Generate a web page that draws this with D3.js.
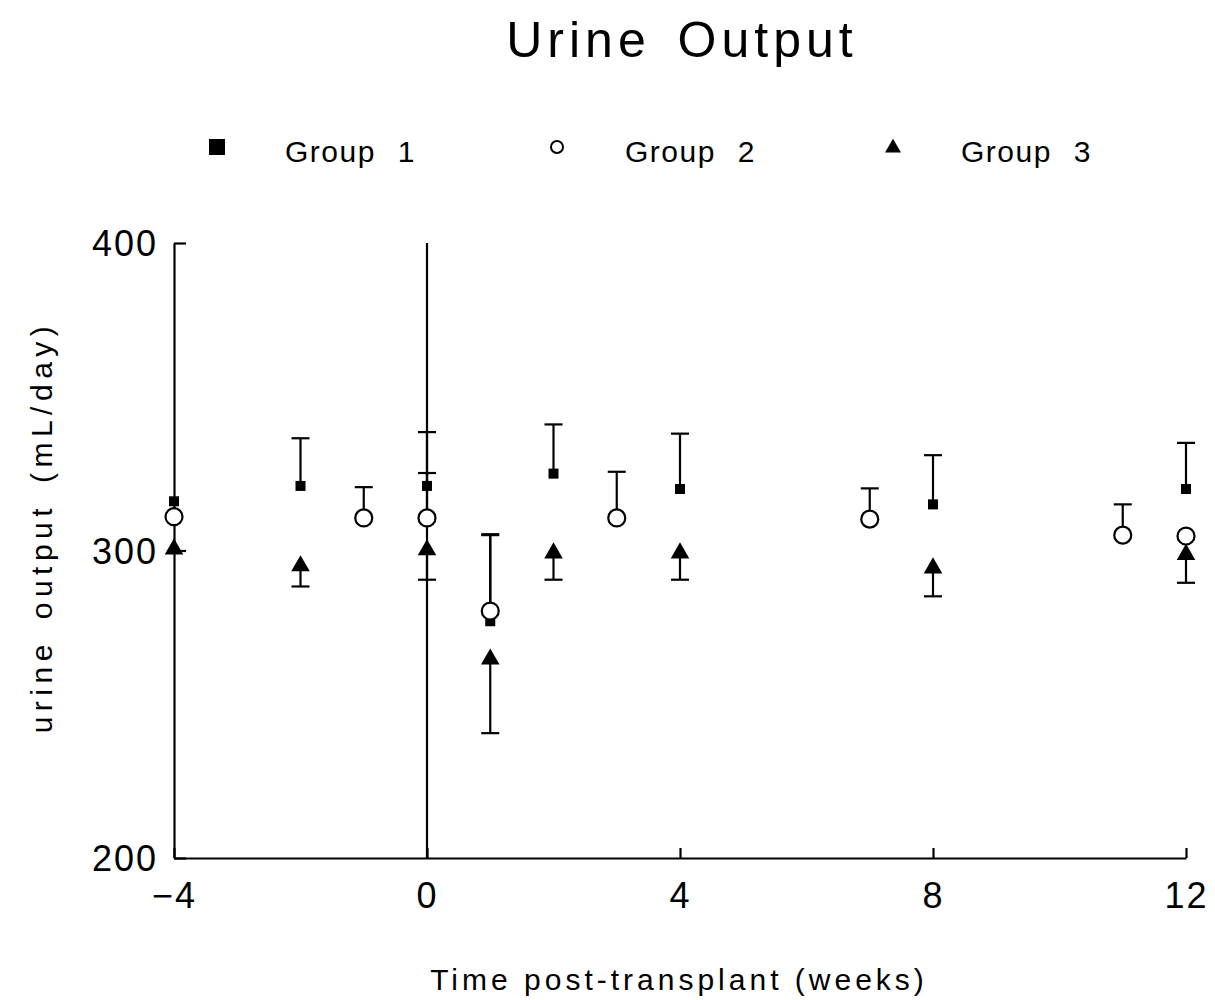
<!DOCTYPE html>
<html>
<head>
<meta charset="utf-8">
<script src="https://cdn.jsdelivr.net/npm/d3@7"></script>
<style>
  html, body { margin: 0; padding: 0; background: #fff; }
  svg text { font-family: "Liberation Sans", Arial, sans-serif; fill: #000; }
</style>
</head>
<body>
<svg id="chart" width="1215" height="1000"></svg>
<script>
// Weeks relative to transplant
const weeks1 = [-4, -2, 0, 1, 2, 4, 8, 12];
const group1 = [316, 321, 321, 277, 325, 320, 315, 320];
const group1Err = [0, 15.5, 17.5, 28, 16, 18, 16, 15];

const weeks2 = [-4, -1, 0, 1, 3, 7, 11, 12];
const group2 = [311, 310.6, 310.6, 280.3, 310.6, 310.2, 305, 304.7];
const group2Err = [0, 10, 14.6, 25, 15, 10, 10, 0];

const weeks3 = [-4, -2, 0, 1, 2, 4, 8, 12];
const group3 = [300.8, 295.3, 300.5, 265, 299.5, 299.5, 294.6, 299];
const group3Err = [0, 7, 10, 24.4, 9, 9, 9.5, 9.5];

const xTicks = [-4, 0, 4, 8, 12];
const yTicks = [200, 300, 400];
const legendLabels = ["Group 1", "Group 2", "Group 3"];

const svg = d3.select("#chart");
const x = d3.scaleLinear().domain([-4, 12]).range([174, 1186]);
const y = d3.scaleLinear().domain([200, 400]).range([858, 243]);
const lw = 2.2;

// Title
svg.append("text").attr("x", 682).attr("y", 57).attr("text-anchor", "middle")
  .style("font-size", "50px").style("letter-spacing", "5px").style("word-spacing", "8px").text("Urine Output");

// Axes (ticks point inward)
const yAxis = svg.append("g").attr("transform", `translate(${x(-4)},0)`)
  .call(d3.axisLeft(y).tickValues(yTicks).tickSizeInner(-12).tickSizeOuter(0).tickFormat(d3.format("d")));
yAxis.selectAll("text").attr("x", -16).attr("dy", "0.35em")
  .style("font-size", "36px").style("letter-spacing", "2px");

const xAxis = svg.append("g").attr("transform", `translate(0,${y(200)})`)
  .call(d3.axisBottom(x).tickValues(xTicks).tickSizeInner(-10).tickSizeOuter(0)
    .tickFormat(d => d < 0 ? "\u2212" + Math.abs(d) : d));
xAxis.selectAll("text").attr("y", 24).attr("dy", "0.71em")
  .style("font-size", "36px").style("letter-spacing", "2px");

[yAxis, xAxis].forEach(a => {
  a.select(".domain").attr("stroke", "#000").attr("stroke-width", lw);
  a.selectAll(".tick line").attr("stroke", "#000").attr("stroke-width", lw);
  a.selectAll(".tick text").style("font-family", "'Liberation Sans', Arial, sans-serif").attr("fill", "#000");
});

// Axis titles
svg.append("text").attr("x", 679).attr("y", 990).attr("text-anchor", "middle")
  .style("font-size", "30px").style("letter-spacing", "4px").text("Time post-transplant (weeks)");
svg.append("text").attr("transform", `translate(52,527) rotate(-90)`).attr("text-anchor", "middle")
  .style("font-size", "30px").style("letter-spacing", "5.5px").style("word-spacing", "6px").text("urine output (mL/day)");

// Transplant reference line at week 0
svg.append("line").attr("x1", x(0)).attr("x2", x(0)).attr("y1", y(400)).attr("y2", y(200))
  .attr("stroke", "#000").attr("stroke-width", lw);

const capW = 9;
function errorBars(weeks, vals, errs, dir) {
  const g = svg.append("g").attr("stroke", "#000").attr("stroke-width", lw);
  weeks.forEach((w, i) => {
    if (!errs[i]) return;
    const yEnd = y(vals[i] + dir * errs[i]);
    g.append("line").attr("x1", x(w)).attr("x2", x(w)).attr("y1", y(vals[i])).attr("y2", yEnd);
    g.append("line").attr("x1", x(w) - capW).attr("x2", x(w) + capW).attr("y1", yEnd).attr("y2", yEnd);
  });
}
errorBars(weeks1, group1, group1Err, 1);
errorBars(weeks2, group2, group2Err, 1);
errorBars(weeks3, group3, group3Err, -1);

// Markers
const sq = 10;
svg.append("g").selectAll("rect").data(weeks1).join("rect")
  .attr("x", d => x(d) - sq / 2).attr("y", (d, i) => y(group1[i]) - sq / 2)
  .attr("width", sq).attr("height", sq).attr("fill", "#000");

svg.append("g").selectAll("circle").data(weeks2).join("circle")
  .attr("cx", d => x(d)).attr("cy", (d, i) => y(group2[i])).attr("r", 8.5)
  .attr("fill", "#fff").attr("stroke", "#000").attr("stroke-width", lw);

const tri = d3.symbol().type(d3.symbolTriangle).size(150);
svg.append("g").selectAll("path").data(weeks3).join("path")
  .attr("transform", (d, i) => `translate(${x(d)},${y(group3[i]) + 1})`)
  .attr("d", tri).attr("fill", "#000");

// Legend
const legendX = [217, 557, 893];
const lg = svg.append("g");
lg.append("rect").attr("x", legendX[0] - 8).attr("y", 139).attr("width", 16).attr("height", 16).attr("fill", "#000");
lg.append("circle").attr("cx", legendX[1]).attr("cy", 147).attr("r", 6).attr("fill", "#fff")
  .attr("stroke", "#000").attr("stroke-width", 2);
lg.append("path").attr("transform", `translate(${legendX[2]},148)`)
  .attr("d", d3.symbol().type(d3.symbolTriangle).size(110)()).attr("fill", "#000");
legendLabels.forEach((t, i) => {
  lg.append("text").attr("x", legendX[i] + 68).attr("y", 162)
    .style("font-size", "30px").style("letter-spacing", "1.5px").style("word-spacing", "12px").text(t);
});
</script>
</body>
</html>
